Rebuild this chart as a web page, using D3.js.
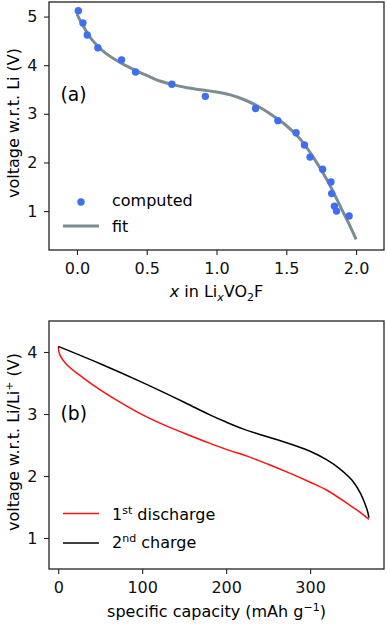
<!DOCTYPE html>
<html><head><meta charset="utf-8">
<script src="https://cdn.jsdelivr.net/npm/d3@7"></script>
<style>body{margin:0;background:#fff}svg{display:block;font-family:"DejaVu Sans",sans-serif}</style>
</head><body><svg id="c" width="387" height="624"></svg>
<script>
// Panel (a) data
const computedX = [0.01,0.043,0.074,0.15,0.32,0.42,0.68,0.92,1.28,1.44,1.57,1.63,1.67,1.76,1.82,1.825,1.845,1.86,1.95];
const computedY = [5.12,4.87,4.62,4.36,4.11,3.86,3.61,3.36,3.11,2.86,2.61,2.36,2.11,1.86,1.60,1.36,1.10,1.00,0.90];
const fitX = [0,0.05,0.1,0.15,0.2,0.3,0.4,0.5,0.6,0.7,0.8,0.9,1.0,1.1,1.2,1.3,1.4,1.5,1.6,1.7,1.8,1.9,1.95,2.0];
const fitY = [5.05,4.78,4.55,4.39,4.26,4.07,3.92,3.79,3.67,3.59,3.53,3.49,3.45,3.39,3.29,3.15,2.97,2.76,2.48,2.08,1.6,1.02,0.73,0.42];
const aXTicks = [0.0,0.5,1.0,1.5,2.0];
const aYTicks = [1,2,3,4,5];
// Panel (b) data
const disCap = [0,2,10,30,50,70,100,130,150,180,200,225,250,275,300,320,345,360,370];
const disV   = [4.08,3.95,3.8,3.58,3.39,3.22,2.99,2.80,2.69,2.53,2.43,2.32,2.19,2.05,1.90,1.77,1.55,1.41,1.30];
const chgCap = [0,50,100,150,180,200,220,240,260,280,300,320,335,350,360,366,369,370];
const chgV   = [4.09,3.81,3.51,3.19,2.99,2.87,2.76,2.67,2.59,2.50,2.40,2.26,2.12,1.93,1.72,1.53,1.40,1.33];
const bXTicks = [0,100,200,300];
const bYTicks = [1,2,3,4];

const svg = d3.select("#c");
const L = 49, R = 384;
const FS = 16, SUB = 11;

function frame(g, x, y, xt, yt, xfmt) {
  const [y0,y1] = y.range();
  g.append("g").attr("transform",`translate(0,${y0})`)
    .call(d3.axisBottom(x).tickValues(xt).tickFormat(xfmt).tickSize(5).tickSizeOuter(0))
    .call(s=>s.select(".domain").remove())
    .call(s=>s.selectAll("line").attr("stroke","#222").attr("stroke-width",1.1))
    .call(s=>s.selectAll("text").attr("font-size",FS).attr("font-family","DejaVu Sans").attr("fill","#111").attr("y",24).attr("dy",0));
  g.append("g").attr("transform",`translate(${L},0)`)
    .call(d3.axisLeft(y).tickValues(yt).tickFormat(d3.format("d")).tickSize(5).tickSizeOuter(0))
    .call(s=>s.select(".domain").remove())
    .call(s=>s.selectAll("line").attr("stroke","#222").attr("stroke-width",1.1))
    .call(s=>s.selectAll("text").attr("font-size",FS).attr("font-family","DejaVu Sans").attr("fill","#111").attr("x",-11.5));
  g.append("rect").attr("x",L).attr("y",y1).attr("width",R-L).attr("height",y0-y1)
    .attr("fill","none").attr("stroke","#222").attr("stroke-width",1.3);
}

// ---- Panel (a)
const xa = d3.scaleLinear().domain([-0.2,2.2]).range([L,R]);
const ya = d3.scaleLinear().domain([0.2,5.3]).range([250,2]);
const ga = svg.append("g");
const fitData = fitX.map((v,i)=>[v,fitY[i]]);
ga.append("path").datum(fitData)
  .attr("d", d3.line().x(d=>xa(d[0])).y(d=>ya(d[1])).curve(d3.curveCatmullRom))
  .attr("fill","none").attr("stroke","#7b8c92").attr("stroke-width",3);
ga.selectAll("circle.pt").data(computedX.map((v,i)=>[v,computedY[i]])).join("circle")
  .attr("class","pt").attr("cx",d=>xa(d[0])).attr("cy",d=>ya(d[1])).attr("r",3.7).attr("fill","#3f6ff0");
frame(ga, xa, ya, aXTicks, aYTicks, d3.format(".1f"));
ga.append("text").attr("x",60.5).attr("y",101).attr("font-size",18.7).text("(a)");
// legend a
ga.append("circle").attr("cx",81).attr("cy",202).attr("r",3.7).attr("fill","#3f6ff0");
ga.append("text").attr("x",112).attr("y",205.5).attr("font-size",FS).text("computed");
ga.append("line").attr("x1",63).attr("x2",99).attr("y1",226).attr("y2",226).attr("stroke","#7b8c92").attr("stroke-width",3);
ga.append("text").attr("x",112).attr("y",231.5).attr("font-size",FS).text("fit");
// axis titles a
const xta = ga.append("text").attr("x",216.5).attr("y",297).attr("text-anchor","middle").attr("font-size",FS);
xta.append("tspan").attr("font-style","italic").text("x");
xta.append("tspan").text(" in Li");
xta.append("tspan").attr("font-style","italic").attr("font-size",SUB).attr("dy",3.5).text("x");
xta.append("tspan").attr("dy",-3.5).text("VO");
xta.append("tspan").attr("font-size",SUB).attr("dy",3.5).text("2");
xta.append("tspan").attr("dy",-3.5).text("F");
ga.append("text").attr("transform","translate(18.5,123) rotate(-90)").attr("text-anchor","middle").attr("font-size",FS).text("voltage w.r.t. Li (V)");

// ---- Panel (b)
const xb = d3.scaleLinear().domain([-11,388]).range([L,R]);
const yb = d3.scaleLinear().domain([0.5,4.5]).range([569,321]);
const gb = svg.append("g");
const line = d3.line().x(d=>xb(d[0])).y(d=>yb(d[1])).curve(d3.curveCatmullRom);
gb.append("path").datum(disCap.map((v,i)=>[v,disV[i]])).attr("d",line)
  .attr("fill","none").attr("stroke","#ff1010").attr("stroke-width",1.5);
gb.append("path").datum(chgCap.map((v,i)=>[v,chgV[i]])).attr("d",line)
  .attr("fill","none").attr("stroke","#000").attr("stroke-width",1.5);
frame(gb, xb, yb, bXTicks, bYTicks, d3.format("d"));
gb.append("text").attr("x",60.5).attr("y",420).attr("font-size",18.7).text("(b)");
gb.append("line").attr("x1",63).attr("x2",99).attr("y1",513.5).attr("y2",513.5).attr("stroke","#ff1010").attr("stroke-width",1.5);
const t1 = gb.append("text").attr("x",112).attr("y",519.5).attr("font-size",FS);
t1.append("tspan").text("1");
t1.append("tspan").attr("font-size",SUB).attr("dy",-6).text("st");
t1.append("tspan").attr("dy",6).text(" discharge");
gb.append("line").attr("x1",63).attr("x2",99).attr("y1",543).attr("y2",543).attr("stroke","#000").attr("stroke-width",1.5);
const t2 = gb.append("text").attr("x",112).attr("y",548).attr("font-size",FS);
t2.append("tspan").text("2");
t2.append("tspan").attr("font-size",SUB).attr("dy",-6).text("nd");
t2.append("tspan").attr("dy",6).text(" charge");
const xtb = gb.append("text").attr("x",216.5).attr("y",616.5).attr("text-anchor","middle").attr("font-size",FS);
xtb.append("tspan").text("specific capacity (mAh g");
xtb.append("tspan").attr("font-size",SUB).attr("dy",-6).text("\u22121");
xtb.append("tspan").attr("dy",6).text(")");
const ytb = gb.append("text").attr("transform","translate(18.5,442) rotate(-90)").attr("text-anchor","middle").attr("font-size",FS);
ytb.append("tspan").text("voltage w.r.t. Li/Li");
ytb.append("tspan").attr("font-size",SUB).attr("dy",-6).text("+");
ytb.append("tspan").attr("dy",6).text(" (V)");
</script></body></html>
